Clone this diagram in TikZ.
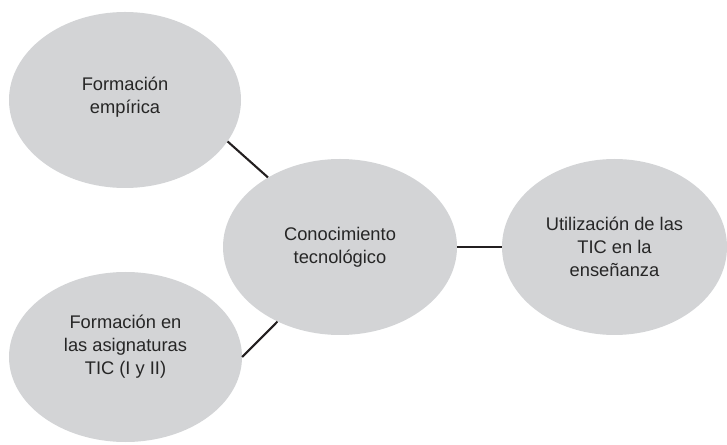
\documentclass[tikz,border=0pt]{standalone}
\usepackage{fontspec}
\setmainfont{Liberation Sans}
\usetikzlibrary{shapes.geometric}
\definecolor{bubble}{HTML}{D3D4D6}
\definecolor{ink}{HTML}{262626}
\definecolor{wire}{HTML}{231F20}
\begin{document}
\begin{tikzpicture}[x=1pt,y=1pt,
  bubble/.style={ellipse,fill=bubble,draw=none,inner sep=0pt},
  caption/.style={text=ink,align=center,font=\fontsize{18.3}{23}\selectfont},
  link/.style={draw=wire,line width=2.1pt}]
\useasboundingbox (0,0) rectangle (727,444);
% concept bubbles
\node[bubble,minimum width=232,minimum height=176] (tl) at (125,344) {};
\node[bubble,minimum width=234,minimum height=176] (c) at (340,197) {};
\node[bubble,minimum width=225,minimum height=176] (r) at (614.5,197) {};
\node[bubble,minimum width=233,minimum height=170] (bl) at (125.5,87) {};
% captions
\node[caption] (tlt) at ([yshift=3pt]tl.center) {Formación\\empírica};
\node[caption] (ct) at (c.center) {Conocimiento\\tecnológico};
\node[caption] (rt) at (r.center) {Utilización de las\\TIC en la\\enseñanza};
\node[caption] (blt) at ([yshift=10pt]bl.center) {Formación en\\las asignaturas\\TIC (I y II)};
% connectors
\draw[link] (tl.-22) -- (c.136);
\draw[link] (bl.0) -- (c.230);
\draw[link] (c.east) -- (r.west);
\end{tikzpicture}
\end{document}
